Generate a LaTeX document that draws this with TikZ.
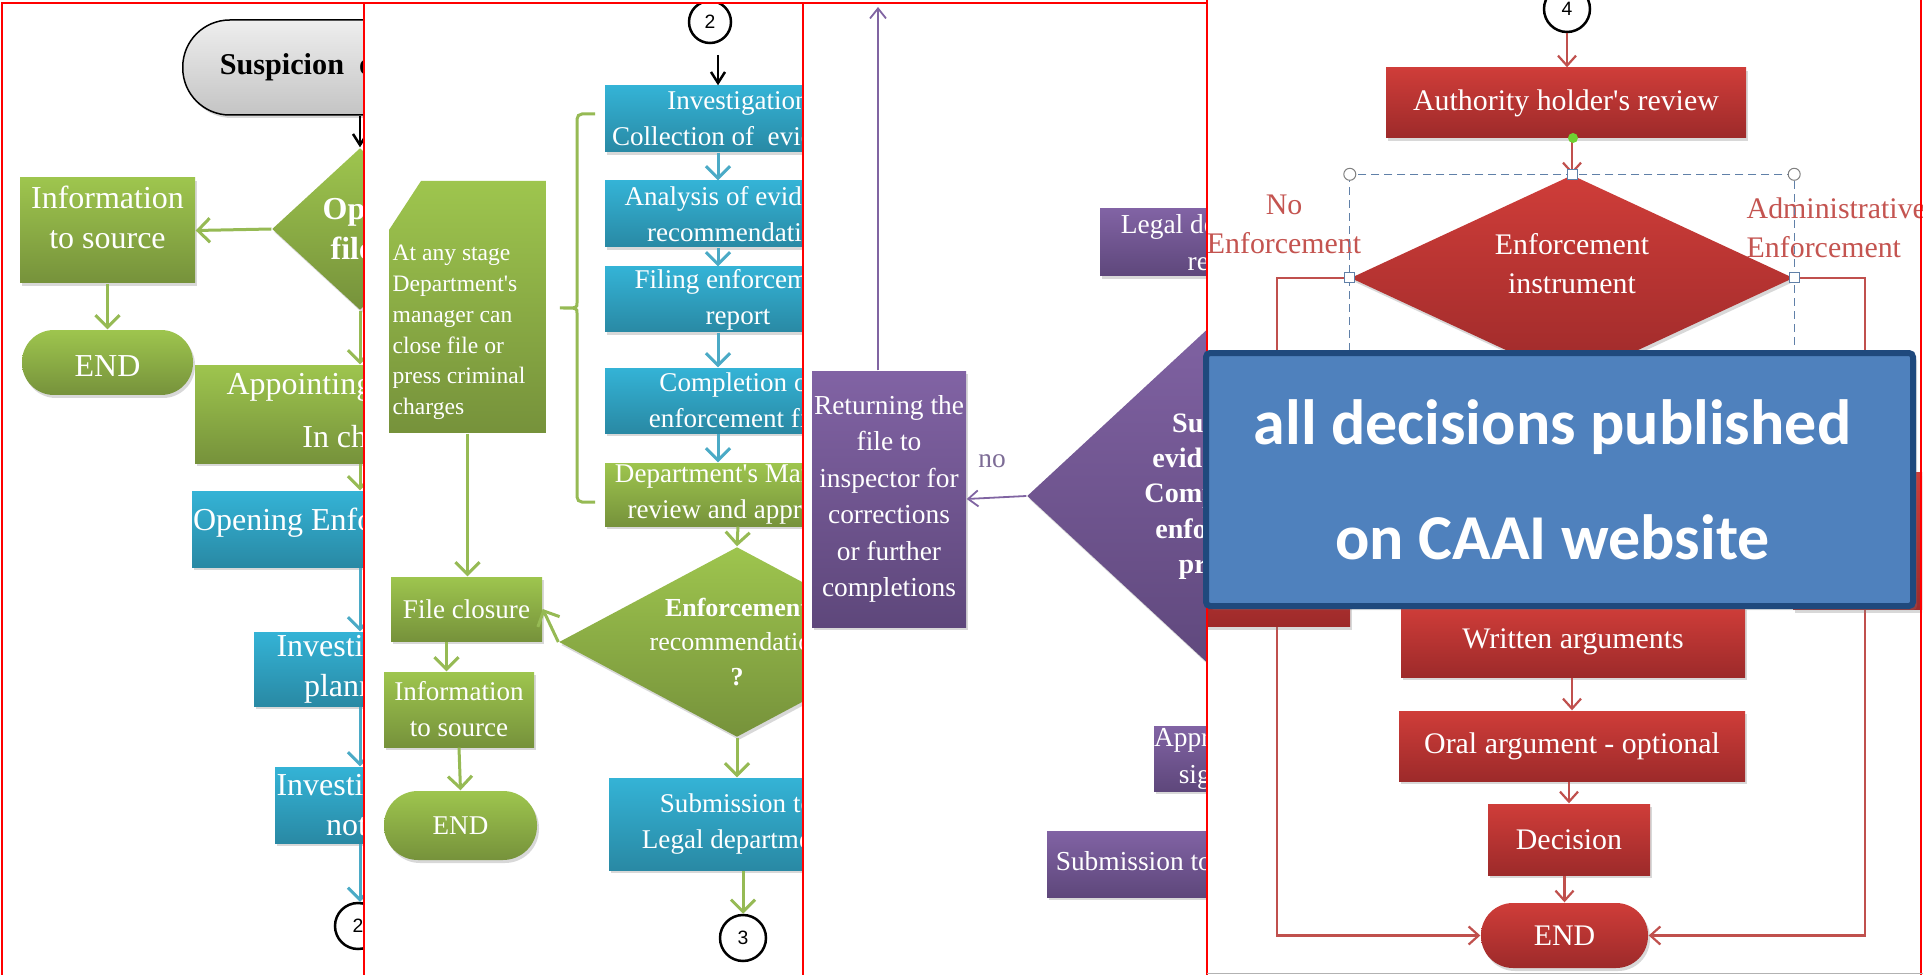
\documentclass[tikz,border=0pt]{standalone}
\usepackage{fontspec}
\setmainfont{Liberation Serif}
\newfontfamily\calfont{Carlito}
\newfontfamily\numfont{Liberation Sans}
\usetikzlibrary{shapes,arrows.meta,positioning,shadows}

\definecolor{gTop}{RGB}{158,197,78}
\definecolor{gBot}{RGB}{118,146,59}
\definecolor{bTop}{RGB}{52,179,214}
\definecolor{bBot}{RGB}{41,137,164}
\definecolor{pTop}{RGB}{129,99,164}
\definecolor{pBot}{RGB}{94,71,123}
\definecolor{rTop}{RGB}{207,61,57}
\definecolor{rBot}{RGB}{157,42,42}
\definecolor{kTop}{RGB}{238,238,238}
\definecolor{kBot}{RGB}{196,196,196}
\definecolor{gLine}{RGB}{150,186,84}
\definecolor{bLine}{RGB}{75,170,198}
\definecolor{pLine}{RGB}{128,100,162}
\definecolor{rLine}{RGB}{192,80,77}
\definecolor{rText}{RGB}{196,84,80}
\definecolor{noText}{RGB}{125,108,150}
\definecolor{frameRed}{RGB}{255,0,0}
\definecolor{selBlue}{RGB}{96,128,168}
\definecolor{dotGreen}{RGB}{110,210,50}
\definecolor{ovFill}{RGB}{79,129,189}
\definecolor{ovLine}{RGB}{31,73,125}

\begin{document}
\begin{tikzpicture}[
    x=0.1mm, y=-0.1mm,
    box/.style={rectangle, inner sep=0pt, align=center, text=white,
      drop shadow={shadow xshift=0.2mm, shadow yshift=-0.3mm, opacity=0.3}},
    gbox/.style={box, top color=gTop, bottom color=gBot},
    bbox/.style={box, top color=bTop, bottom color=bBot},
    pbox/.style={box, top color=pTop, bottom color=pBot},
    rbox/.style={box, top color=rTop, bottom color=rBot},
    decide/.style={diamond, inner sep=0pt, align=center, text=white,
      drop shadow={shadow xshift=0.2mm, shadow yshift=-0.3mm, opacity=0.3}},
    numcirc/.style={circle, draw=black, line width=0.25mm, fill=white, inner sep=0pt,
      minimum size=4.6mm, font=\numfont\fontsize{5.5}{6}\selectfont},
    panelframe/.style={draw=frameRed, line width=0.15mm},
    arrowtip/.style={-{Straight Barb[length=1.2mm,width=2.4mm]}},
    garrow/.style={arrowtip, draw=gLine, line width=0.3mm},
    barrow/.style={arrowtip, draw=bLine, line width=0.3mm},
    parrow/.style={-{Straight Barb[length=1mm,width=1.6mm]}, draw=pLine, line width=0.18mm},
    rarrow/.style={-{Straight Barb[length=1mm,width=1.8mm]}, draw=rLine, line width=0.22mm},
    karrow/.style={-{Straight Barb[length=1.1mm,width=1.4mm]}, draw=black, line width=0.25mm},
    rlabel/.style={text=rText, align=center, inner sep=0pt},
    selhandle/.style={circle, draw=gray, fill=white, line width=0.1mm, inner sep=0pt, minimum size=1.2mm},
    selsquare/.style={rectangle, draw=selBlue, fill=white, line width=0.1mm, inner sep=0pt, minimum size=1mm},
    selbox/.style={draw=selBlue, line width=0.1mm, dash pattern=on 0.8mm off 0.5mm},
    pub/.style={rectangle, fill=ovFill, draw=ovLine, line width=0.6mm, rounded corners=0.4mm,
      text=white, align=center, inner sep=0pt,
      font=\calfont\bfseries\fontsize{18.2}{32.7}\selectfont,
      drop shadow={shadow xshift=0.4mm, shadow yshift=-0.4mm, opacity=0.25}}
]

\fill[white] (0,0) rectangle (1923,975);
\useasboundingbox (0,0) rectangle (1923,975);

% Panel 1: opening the file
\begin{scope}[font=\fontsize{9.1}{11.4}\selectfont]
  \clip (2,3) rectangle (365,975);
  \node[rectangle, rounded corners=4.7mm, draw=black, line width=0.15mm, top color=kTop, bottom color=kBot,
        minimum height=9.5mm, text width=18mm, align=left, inner xsep=3.7mm, anchor=west,
        font=\fontsize{8.6}{10}\selectfont\bfseries,
        drop shadow={shadow xshift=0.2mm, shadow yshift=-0.3mm, opacity=0.3}] (susp) at (182,67.5) {Suspicion\enspace of};
  \node[decide, top color=gTop, bottom color=gBot, minimum width=17.6mm, minimum height=16.2mm,
        aspect=1.09, font=\fontsize{9.1}{11.4}\selectfont\bfseries] (open1) at (360,229) {Open\\file?};
  \node[gbox, minimum width=17.5mm, minimum height=10.5mm, text depth=2.7mm] (info1) at (107.5,230.5) {Information\\to source};
  \node[gbox, rounded corners=3.2mm, minimum width=17.1mm, minimum height=6.5mm, text height=2.9mm] (end1) at (107.5,362.5) {END};
  \node[gbox, minimum width=33.4mm, minimum height=9.8mm] (appoint) at (362,414) {Appointing inspector\\[1.3mm]In charge};
  \node[bbox, minimum width=33.6mm, minimum height=7.6mm, text depth=1.9mm] (openenf) at (360,529) {Opening Enforcement file};
  \node[bbox, minimum width=21.2mm, minimum height=7.4mm] (invplan) at (360,669) {Investigation\\planning};
  \node[bbox, minimum width=17mm, minimum height=7.6mm] (invnotes) at (360,805) {Investigation\\notes};
  \node[numcirc] (circ2a) at (358,926) {2};

  % flow
  \draw[karrow] (susp.south -| open1.north) -- (open1.north);
  \draw[garrow] (open1.west) -- (info1.east);
  \draw[garrow] (info1.south) -- (end1.north);
  \draw[garrow] (open1.south) -- (open1.south |- appoint.north);
  \draw[garrow] (appoint.south -| openenf.north) -- (openenf.north);
  \draw[barrow] (openenf.south) -- (invplan.north);
  \draw[barrow] (invplan.south) -- (invnotes.north);
  \draw[barrow] (invnotes.south) -- (invnotes.south |- circ2a.north);
\end{scope}
\draw[panelframe] (2,3) rectangle (365,985);

% Panel 2: investigation
\begin{scope}[font=\fontsize{7.7}{10.2}\selectfont]
  \clip (364,3) rectangle (803,975);
  \fill[white] (364,3) rectangle (803,975);
  \coordinate (colB) at (718,0);
  \coordinate (c2out) at (718,55);
  \node[numcirc, minimum size=4.2mm] (circ2b) at (710,22) {2};
  \node[bbox, minimum width=26.6mm, minimum height=6.6mm] (inv2) at (738,119) {Investigation\\Collection of\ \ evidence};
  \node[bbox, minimum width=26.6mm, minimum height=6.6mm] (anal) at (738,214) {Analysis of evidence\\recommendation};
  \node[bbox, minimum width=26.6mm, minimum height=6.5mm] (filing) at (738,299.5) {Filing enforcement\\report};
  \node[bbox, minimum width=26.6mm, minimum height=6.5mm] (compl) at (738,400.5) {Completion of\\enforcement file};
  \node[gbox, minimum width=26.6mm, minimum height=6.3mm] (review) at (738,494.5) {Department\textquotesingle s Manager\\review and approval};

  % side note with a cut corner
  \node[rectangle, minimum width=15.7mm, minimum height=25.2mm, inner sep=0pt,
        path picture={\shade[top color=gTop, bottom color=gBot]
          ([yshift=-4.9mm]path picture bounding box.north west) -- ([xshift=3.2mm]path picture bounding box.north west)
          -- (path picture bounding box.north east) -- (path picture bounding box.south east)
          -- (path picture bounding box.south west) -- cycle;}] (note) at (467.5,307) {};
  \node[anchor=north west, text=white, align=left, inner sep=0pt,
        font=\fontsize{6.7}{8.8}\selectfont] (notetxt) at (392,244)
        {At any stage\\Department\textquotesingle s\\manager can\\close file or\\press criminal\\charges};

  % brace
  \draw[draw=gLine, line width=0.3mm, rounded corners=0.5mm]
    (595,114) -- (577,114) -- (577,298) .. controls (577,308) .. (557,308)
    .. controls (577,308) .. (577,318) -- (577,502) -- (595,502);

  \node[gbox, minimum width=15.1mm, minimum height=6.4mm] (fileclose) at (466.5,609) {File closure};
  \node[gbox, minimum width=15mm, minimum height=7.5mm] (info2) at (459,709.5) {Information\\to source};
  \node[gbox, rounded corners=3.4mm, minimum width=15.3mm, minimum height=6.9mm] (end2) at (460.5,825.5) {END};
  \node[decide, top color=gTop, bottom color=gBot, minimum width=35.6mm, minimum height=19mm,
        aspect=1.87, font=\fontsize{7.4}{9.7}\selectfont] (recdia) at (737,642)
        {\textbf{Enforcement}\\recommendation\\\textbf{?}};
  \node[bbox, minimum width=25.6mm, minimum height=9.2mm] (submit) at (737,824) {Submission to\\Legal department};
  \node[numcirc] (circ3) at (743,938) {3};

  % flow
  \draw[karrow] (c2out) -- (inv2.north -| c2out);
  \draw[barrow] (inv2.south -| colB) -- (anal.north -| colB);
  \draw[barrow] (anal.south -| colB) -- (filing.north -| colB);
  \draw[barrow] (filing.south -| colB) -- (compl.north -| colB);
  \draw[barrow] (compl.south -| colB) -- (review.north -| colB);
  \draw[garrow] (review.south) -- (recdia.north);
  \draw[garrow] (note.south) -- (note.south |- fileclose.north);
  \draw[garrow] (recdia.west) -- (fileclose.east);
  \draw[garrow] ([xshift=-2mm]fileclose.south) -- ([xshift=-2mm]fileclose.south |- info2.north);
  \draw[garrow] (info2.south) -- (end2.north);
  \draw[garrow] (recdia.south) -- (submit.north);
  \draw[garrow] (submit.south -| circ3.north) -- (circ3.north);
\end{scope}
\draw[panelframe] (364,3) rectangle (803,985);

% Panel 3: legal department
\begin{scope}[font=\fontsize{7.8}{10.4}\selectfont]
  \clip (803,3) rectangle (1207,975);
  \fill[white] (803,3) rectangle (1207,975);
  \coordinate (rettop) at (878,7);
  \node[pbox, minimum width=15.4mm, minimum height=25.6mm] (retbox) at (889,499)
        {Returning the\\file to\\inspector for\\corrections\\or further\\completions};
  \node[decide, top color=pTop, bottom color=pBot, minimum width=40.6mm, minimum height=37.6mm,
        aspect=1.08, font=\fontsize{8}{10}\selectfont\bfseries] (suffdia) at (1230,496)
        {Sufficient\\evidence and\\Completion of\\enforcement\\process?};
  \node[pbox, minimum width=25mm, minimum height=6.7mm] (legal) at (1225,242.5) {Legal department\textquotesingle s\\review};
  \node[pbox, minimum width=14.6mm, minimum height=6.5mm] (appr) at (1229,758.5) {Approval and\\signature};
  \node[pbox, minimum width=36.4mm, minimum height=6.6mm] (subauth) at (1229,864) {Submission to Authority holder};
  \node[text=noText, inner sep=0pt] (nolbl) at (992,461) {no};

  \draw[parrow] (retbox.north -| rettop) -- (rettop);
  \draw[parrow] (suffdia.west) -- (retbox.east);
\end{scope}
\draw[panelframe] (803,3) rectangle (1207,985);

% Panel 4: authority holder
\begin{scope}[font=\fontsize{8.5}{11.1}\selectfont]
  \clip (1207,0) rectangle (1922,975);
  \fill[white] (1207,0) rectangle (1922,975);
  \node[numcirc] (circ4) at (1567,9) {4};
  \node[rbox, minimum width=36mm, minimum height=7mm] (auth) at (1566,103) {Authority holder\textquotesingle s review};
  \node[decide, top color=rTop, bottom color=rBot, minimum width=44.3mm, minimum height=20.6mm,
        aspect=2.15, text depth=3mm] (enfdia) at (1572,278) {Enforcement\\instrument};
  \node[rbox, minimum width=34.4mm, minimum height=7mm] (written) at (1573,642) {Written arguments};
  \node[rbox, minimum width=34.6mm, minimum height=7mm] (oral) at (1572,746) {Oral argument - optional};
  \node[rbox, minimum width=16.2mm, minimum height=7.1mm] (decision) at (1569,839.5) {Decision};
  \node[rbox, rounded corners=3.2mm, minimum width=16.7mm, minimum height=6.5mm] (end3) at (1564.5,935.5) {END};
  \node[rlabel] (noenf) at (1284,224) {No\\Enforcement};
  \node[rlabel, align=left, anchor=west] (admenf) at (1746,228) {Administrative\\Enforcement};

  % flow
  \draw[rarrow] (circ4.south) -- (circ4.south |- auth.north);
  \draw[rarrow] (auth.south -| enfdia.north) -- (enfdia.north);
  \draw[rarrow] (enfdia.west) -- ++(-73,0) |- (end3.west);
  \draw[rarrow] (enfdia.east) -- ++(71,0) |- (end3.east);
  \draw[rarrow] (written.south -| oral.north) -- (oral.north);
  \draw[rarrow] (oral.south -| decision.north) -- (decision.north);
  \draw[rarrow] (decision.south -| end3.north) -- (end3.north);

  % boxes half hidden by the note
  \node[rbox, minimum width=16mm, minimum height=9.7mm] (leftbox) at (1270,578) {};
  \node[rbox, minimum width=16.6mm, minimum height=13.7mm] (rightbox) at (1876,541) {};

  % selection marks
  \draw[selbox] (enfdia.west |- enfdia.north) rectangle (enfdia.east |- enfdia.south);
  \node[selhandle] (hnw) at (enfdia.west |- enfdia.north) {};
  \node[selhandle] (hne) at (enfdia.east |- enfdia.north) {};
  \foreach \a in {north,west,east}
    \node[selsquare] (sq-\a) at (enfdia.\a) {};
  \node[circle, fill=dotGreen, inner sep=0pt, minimum size=1mm] (rotdot) at (1573,138) {};
\end{scope}
\draw[panelframe] (1207,-10) -- (1207,975);
\draw[panelframe] (1921,-10) -- (1921,975);
\draw[draw=gray!60, line width=0.1mm] (1207,973) -- (1923,973);

% note on top
\node[pub, minimum width=70.7mm, minimum height=25.3mm] (pubnote) at (1559.5,479.5)
     {all decisions published\kern1.4mm\\on CAAI website\kern1.4mm};

\end{tikzpicture}
\end{document}
